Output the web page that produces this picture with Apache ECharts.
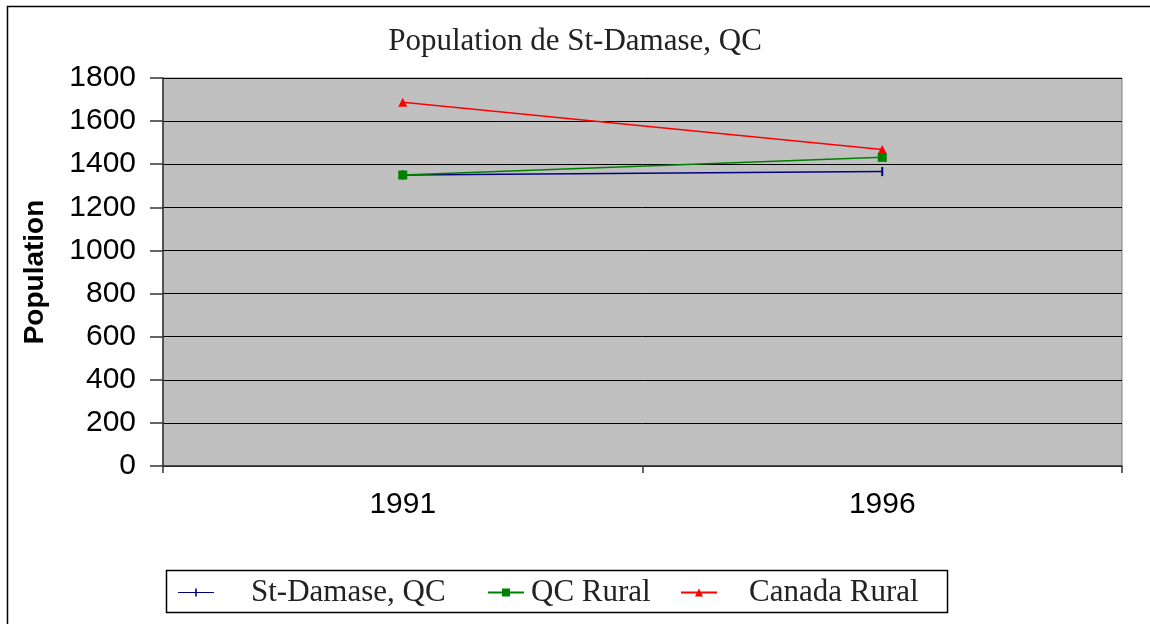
<!DOCTYPE html>
<html>
<head>
<meta charset="utf-8">
<script src="https://cdn.jsdelivr.net/npm/echarts@6/dist/echarts.min.js"></script>
<style>
  html, body { margin: 0; padding: 0; background: #fff; }
  #main { width: 1150px; height: 624px; }
</style>
</head>
<body>
<div id="main"></div>
<script>
var years = ['1991', '1996'];
var stDamase = [1350, 1366];
var qcRural = [1350, 1432];
var canadaRural = [1688, 1468];
var yTicks = [0, 200, 400, 600, 800, 1000, 1200, 1400, 1600, 1800];

var serif = '"Liberation Serif", "DejaVu Serif", serif';
var sans = '"Liberation Sans", Arial, sans-serif';

var myChart = echarts.init(document.getElementById('main'));

function legendAt(item, left, textPad) {
    return {
        data: [item],
        left: left,
        top: 572,
        itemWidth: 36,
        itemHeight: 10,
        itemGap: 0,
        textStyle: { fontFamily: serif, fontSize: 31, color: '#222', padding: [0, 0, 0, textPad] }
    };
}

var option = {
    backgroundColor: '#fff',
    animation: false,
    title: {
        text: 'Population de St-Damase, QC',
        left: 'center',
        top: 21,
        textStyle: { fontFamily: serif, fontSize: 31, fontWeight: 'normal', color: '#222' }
    },
    graphic: [
        { type: 'rect', shape: { x: 7.5, y: 6.5, width: 1200, height: 700 },
          style: { fill: 'none', stroke: '#000', lineWidth: 1.5 }, z: 100 },
        { type: 'rect', shape: { x: 166.5, y: 570.5, width: 781, height: 42 },
          style: { fill: 'none', stroke: '#000', lineWidth: 1.5 }, z: 100 }
    ],
    legend: [
        legendAt({ name: 'St-Damase, QC', icon: 'path://M0,4.4 L36,4.4 L36,5.6 L0,5.6 Z M17.2,1 L18.8,1 L18.8,9 L17.2,9 Z' }, 173, 32),
        legendAt('QC Rural', 482, 2),
        legendAt('Canada Rural', 675, 27)
    ],
    grid: {
        left: 163, right: 28, top: 78, bottom: 158,
        show: true, backgroundColor: '#c0c0c0', borderColor: '#808080', borderWidth: 1
    },
    xAxis: {
        type: 'category',
        data: years,
        boundaryGap: true,
        axisLine: { lineStyle: { color: '#333', width: 1.5 } },
        axisTick: { show: true, length: 7, lineStyle: { color: '#333', width: 1.5 } },
        axisLabel: { fontFamily: sans, fontSize: 30, color: '#000', margin: 24 }
    },
    yAxis: {
        type: 'value',
        min: yTicks[0],
        max: yTicks[yTicks.length - 1],
        interval: 200,
        name: 'Population',
        nameLocation: 'middle',
        nameRotate: 90,
        nameGap: 114,
        nameTextStyle: { fontFamily: sans, fontSize: 28, fontWeight: 'bold', color: '#000' },
        axisLine: { show: true, lineStyle: { color: '#333', width: 1.5 } },
        axisTick: { show: true, inside: false, length: 13, lineStyle: { color: '#333', width: 1.5 } },
        axisLabel: { fontFamily: sans, fontSize: 30, color: '#000', margin: 27,
            formatter: function (v) { return String(v); } },
        splitLine: { show: true, lineStyle: { color: '#000', width: 1 } }
    },
    series: [
        {
            name: 'St-Damase, QC', type: 'line', data: stDamase,
            symbol: 'rect', symbolSize: [2, 9], showSymbol: true,
            itemStyle: { color: '#000080' },
            lineStyle: { color: '#000080', width: 1.5 }
        },
        {
            name: 'QC Rural', type: 'line', data: qcRural,
            symbol: 'rect', symbolSize: 9,
            itemStyle: { color: '#008000' },
            lineStyle: { color: '#008000', width: 1.5 }
        },
        {
            name: 'Canada Rural', type: 'line', data: canadaRural,
            symbol: 'triangle', symbolSize: 9,
            itemStyle: { color: '#ff0000' },
            lineStyle: { color: '#ff0000', width: 1.5 }
        }
    ]
};
myChart.setOption(option);
</script>
</body>
</html>
